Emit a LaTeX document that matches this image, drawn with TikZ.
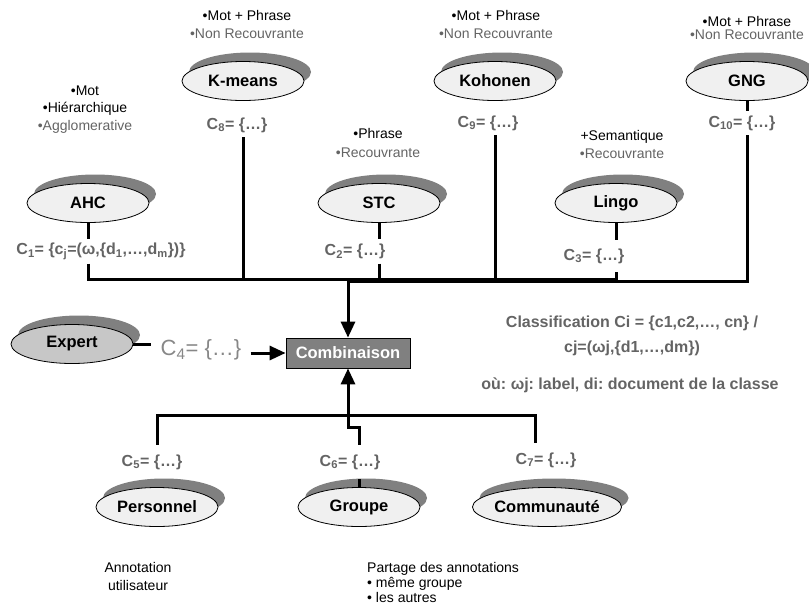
\documentclass[tikz,border=0pt]{standalone}
\usepackage{fontspec}
\setmainfont{Liberation Sans}
\usetikzlibrary{shapes.geometric,shadows,arrows.meta}
\definecolor{txtgray}{RGB}{100,100,100}
\definecolor{ltgray}{RGB}{135,135,135}
\definecolor{shgray}{RGB}{128,128,128}
\frenchspacing
\begin{document}
\begin{tikzpicture}[x=1pt,y=-1pt,
 algo/.style={ellipse,draw=black,line width=0.8pt,fill=black!6,minimum width=122pt,minimum height=39pt,inner sep=0pt,
   font=\bfseries\fontsize{16.5}{19}\selectfont,
   drop shadow={shadow xshift=7pt,shadow yshift=9pt,fill=shgray,opacity=1}},
 clab/.style={font=\bfseries\fontsize{16}{19}\selectfont,text=txtgray,inner sep=0pt,minimum height=24pt},
 blab/.style={clab,minimum height=34pt},
 note/.style={align=center,inner sep=0pt,font=\fontsize{14}{18}\selectfont},
 rtext/.style={align=center,inner sep=0pt,text=txtgray,font=\bfseries\fontsize{16}{25}\selectfont},
 conn/.style={line width=3pt},
 arr/.style={line width=3pt,-{Triangle[width=14pt,length=16pt]}},
]
\useasboundingbox (0,0) rectangle (809,606);

% ellipses
\node[algo] (ahc) at (88,203) {AHC};
\node[algo] (kmeans) at (243,81) {K-means};
\node[algo] (stc) at (379,203) {STC};
\node[algo] (kohonen) at (495,81) {Kohonen};
\node[algo] (lingo) at (616,203) {Lingo};
\node[algo] (gng) at (747,81) {GNG};
\node[algo,fill=black!22] (expert) at (72,344) {Expert};
\node[algo] (perso) at (157,507) {Personnel};
\node[algo] (groupe) at (359,507) {Groupe};
\node[algo,minimum width=131pt] (comm) at (547,507) {Communauté};

% combination box
\node[draw=black,line width=0.8pt,fill=shgray,text=white,font=\bfseries\fontsize{16.5}{19}\selectfont,
  minimum width=124pt,minimum height=30pt,inner sep=0pt] (comb) at (348,353) {Combinaison};

% class labels
\node[clab] (c1) at (101,251.5) {C\textsubscript{1}= \{c\textsubscript{j}=(ω,\{d\textsubscript{1},…,d\textsubscript{m}\})\}};
\node[clab] (c2) at (355,251.5) {C\textsubscript{2}= \{…\}};
\node[clab,minimum height=32pt] (c3) at (594,256) {C\textsubscript{3}= \{…\}};
\node[clab] (c8) at (237,125) {C\textsubscript{8}= \{…\}};
\node[clab] (c9) at (488,123) {C\textsubscript{9}= \{…\}};
\node[clab] (c10) at (742,123) {C\textsubscript{10}= \{…\}};
\node[blab] (c5) at (152,462) {C\textsubscript{5}= \{…\}};
\node[blab] (c6) at (350,462) {C\textsubscript{6}= \{…\}};
\node[blab] (c7) at (546,460) {C\textsubscript{7}= \{…\}};
\node[font=\fontsize{22}{26}\selectfont,text=ltgray,inner xsep=9pt,inner ysep=0pt] (c4) at (201,350) {C\textsubscript{4}= \{…\}};

% annotations
\node[note] (nkm) at (247,24) {•Mot + Phrase\\\textcolor{txtgray}{•Non Recouvrante}};
\node[note] (nko) at (496,24) {•Mot + Phrase\\\textcolor{txtgray}{•Non Recouvrante}};
\node[note,font=\fontsize{14}{13}\selectfont] (ngng) at (747,27.5) {•Mot + Phrase\\\textcolor{txtgray}{•Non Recouvrante}};
\node[note,font=\fontsize{14}{17.5}\selectfont] (nahc) at (85,109.5) {•Mot\\•Hiérarchique\\\textcolor{txtgray}{•Agglomerative}};
\node[note,font=\fontsize{14}{19}\selectfont] (nstc) at (378,142.5) {•Phrase\\\textcolor{txtgray}{•Recouvrante}};
\node[note] (nlingo) at (622,144) {+Semantique\\\textcolor{txtgray}{•Recouvrante}};

\node[rtext] (cls) at (632,335.5) {Classification Ci = \{c1,c2,…, cn\} /\\cj=(ωj,\{d1,…,dm\})};
\node[rtext] (ou) at (630,385) {où: ωj: label, di: document de la classe};

\node[note] (annot) at (138,576) {Annotation\\utilisateur};
\node[note,align=left,anchor=west,font=\fontsize{14}{15}\selectfont] (partage) at (367,582) {Partage des annotations\\• même groupe\\• les autres};

% connectors, top
\coordinate (busA) at (0,279);
\coordinate (busB) at (0,281.5);
\draw[conn] (ahc.south) -- (ahc.south |- c1.north);
\draw[conn] (stc.south) -- (stc.south |- c2.north);
\draw[conn] (lingo.south) -- (lingo.south |- c3.north);
\draw[conn] (gng.south) -- (gng.south |- c10.north);
\draw[conn] (ahc.south |- c1.south) -- (ahc.south |- busA) -- (lingo.south |- busA) -- (lingo.south |- c3.south);
\draw[conn] (kmeans.south |- c8.south) -- (kmeans.south |- busA);
\draw[conn] (kohonen.south |- c9.south) -- (kohonen.south |- busA);
\draw[conn] (stc.south |- c2.south) -- (stc.south |- busA);
\draw[arr] (gng.south |- c10.south) -- (gng.south |- busB) -- (comb.north |- busB) -- (comb.north);

% expert
\draw[conn] (expert.east) -- (expert.east -| c4.west);
\draw[arr] (c4.east |- comb.west) -- (comb.west);

% bottom
\coordinate (busC) at (0,415);
\coordinate (jog) at (0,427);
\coordinate (commx) at (535,0);
\draw[conn] (perso.north |- c5.north) -- (perso.north |- busC) -- (commx |- busC) -- (commx |- c7.north);
\draw[arr] (groupe.north |- c6.north) -- (groupe.north |- jog) -- (comb.south |- jog) -- (comb.south);
\draw[conn] (groupe.north |- c6.south) -- (groupe.north);
\end{tikzpicture}
\end{document}
